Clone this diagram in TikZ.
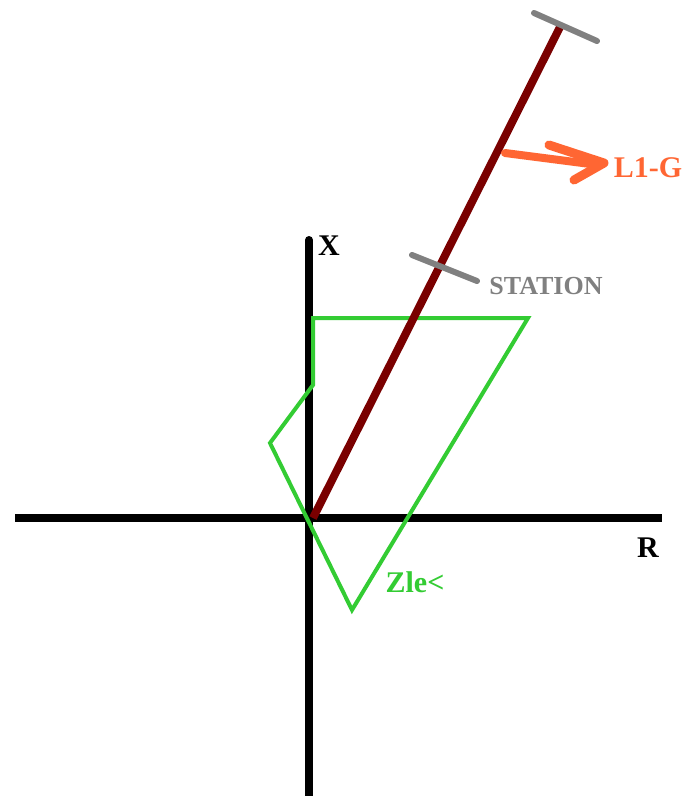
\documentclass[tikz,border=0pt]{standalone}
\usepackage{fontspec}
\setmainfont{Liberation Serif}
\begin{document}
\begin{tikzpicture}[x=1pt,y=-1pt,
  axis/.style={line width=8pt,black},
  rod/.style={line width=8pt,color=rodred},
  tick/.style={line width=6pt,color=tickgray,line cap=round},
  zone/.style={line width=4pt,color=zonegreen,line join=miter},
  pointer/.style={line width=8pt,color=ptrorange,line cap=round,line join=round},
  lbl/.style={font=\fontsize{30}{30}\selectfont\bfseries,inner sep=0pt}
]
\definecolor{rodred}{RGB}{122,0,0}
\definecolor{tickgray}{RGB}{128,128,128}
\definecolor{zonegreen}{RGB}{51,204,51}
\definecolor{ptrorange}{RGB}{255,102,51}
\useasboundingbox[fill=white] (0,0) rectangle (688,796);
% axes
\coordinate (xl) at (15,518);
\coordinate (xr) at (662,518);
\coordinate (yt) at (309,240);
\coordinate (yb) at (309,800);
\draw[axis] (xl) -- (xr);
\draw[axis,line cap=round] (yt) -- (yb);
\draw[axis] (309,245) -- (yb);
% green zone
\coordinate (g1) at (313,318);
\coordinate (g2) at (528,318);
\coordinate (g3) at (352,610);
\coordinate (g4) at (270,443);
\coordinate (g5) at (313,385);
\draw[zone] (g1) -- (g2) -- (g3) -- (g4) -- (g5) -- cycle;
% rod
\coordinate (o) at (313,518);
\coordinate (top) at (560,27);
\draw[rod] (o) -- (top);
% ticks
\coordinate (t1a) at (534,13);
\coordinate (t1b) at (597,41);
\draw[tick] (t1a) -- (t1b);
\coordinate (t2a) at (412,255);
\coordinate (t2b) at (477,281);
\draw[tick] (t2a) -- (t2b);
% pointer
\coordinate (p0) at (505,153);
\coordinate (p1) at (598,165);
\coordinate (pa) at (549,145);
\coordinate (pt) at (604,163);
\coordinate (pb) at (574,180);
\draw[pointer] (p0) -- (p1);
\draw[pointer,line width=9pt] (pa) -- (pt) -- (pb);
% labels
\node[lbl] (lx) at (329,246) {X};
\node[lbl] (lr) at (648,548) {R};
\node[lbl,color=tickgray,font=\fontsize{26}{26}\selectfont\bfseries] (ls) at (546,286) {STATION};
\node[lbl,color=ptrorange] (ll) at (648,168) {L1-G};
\node[lbl,color=zonegreen] (lz) at (415,582) {Zle<};
\end{tikzpicture}
\end{document}
